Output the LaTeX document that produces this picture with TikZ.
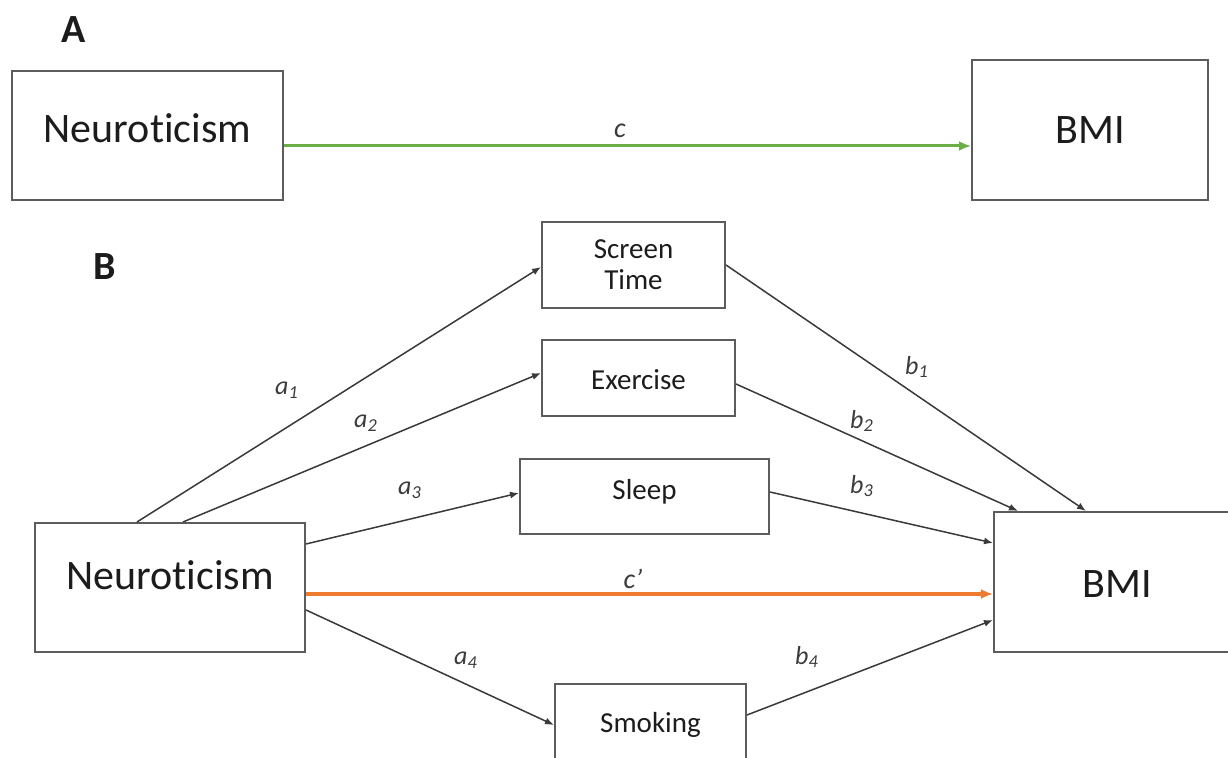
\documentclass[tikz,border=0pt]{standalone}
\usepackage{fontspec}
\setmainfont{Carlito}[Ligatures={NoCommon,NoContextual}]
\usetikzlibrary{arrows.meta,calc}
\definecolor{boxgray}{HTML}{5C5C5C}
\definecolor{arrgray}{HTML}{3A3A3A}
\definecolor{labgray}{HTML}{3C3C3C}
\definecolor{txtblack}{HTML}{1C1C1C}
\definecolor{pathgreen}{HTML}{6AAE45}
\definecolor{pathorange}{HTML}{EE7B30}
\tikzset{
  bigbox/.style={draw=boxgray, line width=1pt, rectangle, inner sep=0pt,
    text=txtblack, font=\fontsize{21}{24}\selectfont},
  smallbox/.style={draw=boxgray, line width=1pt, rectangle, inner sep=0pt,
    text=txtblack, align=center, font=\fontsize{14.5}{15.5}\selectfont},
  patharrow/.style={draw=arrgray, line width=0.75pt, -{Latex[length=4.5pt,width=3.5pt]}},
  greenarrow/.style={draw=pathgreen, line width=1.5pt, -{Latex[length=6pt,width=5pt]}},
  orangearrow/.style={draw=pathorange, line width=2pt, -{Latex[length=6pt,width=5pt]}},
  coef/.style={text=labgray, font=\fontsize{13}{14}\selectfont\itshape, inner sep=0pt},
  panel/.style={text=txtblack, font=\fontsize{20}{22}\selectfont\bfseries, inner sep=0pt}
}
\begin{document}
\begin{tikzpicture}[x=0.5pt,y=-0.5pt]
\useasboundingbox (0,0) rectangle (1228,758);
\clip (0,0) rectangle (1228,758);
\fill[white] (0,0) rectangle (1228,758);

% panel letters
\node[panel] (pA) at (74,30) {A};
\node[panel] (pB) at (105,267) {B};

% panel A
\node[bigbox, minimum width=135.5pt, minimum height=64.5pt, text height=7.5pt, text depth=0pt] (nA) at (147.5,135.5) {Neuroticism};
\node[bigbox, minimum width=118pt, minimum height=70pt, text height=13.5pt, text depth=0pt] (bA) at (1090,130) {BMI};
\draw[greenarrow] ([yshift=-5.25pt]nA.east) -- ([yshift=-5.25pt]nA.east -| bA.west);
\node[coef, font=\fontsize{14}{15}\selectfont\itshape] (lc) at (620,131) {c};

% panel B
\node[bigbox, minimum width=135pt, minimum height=64.5pt, text height=2.5pt, text depth=0pt] (nb) at (170,587.5) {Neuroticism};
\node[bigbox, minimum width=123pt, minimum height=70pt, text height=16pt, text depth=0pt] (bb) at (1117,582) {BMI};
\node[smallbox, minimum width=91.5pt, minimum height=43pt] (st) at (633.5,265) {Screen\\Time};
\node[smallbox, minimum width=96.5pt, minimum height=38pt, text height=12pt, text depth=0pt] (ex) at (638.5,378) {Exercise};
\node[smallbox, minimum width=124.5pt, minimum height=37.5pt, text height=3.5pt, text depth=0pt] (sl) at (644.5,496.5) {Sleep};
\node[smallbox, minimum width=95.5pt, minimum height=53pt, text height=0pt, text depth=4pt] (sm) at (650.5,737) {Smoking};

% a paths
\draw[patharrow] ([xshift=51.5pt]nb.north west) -- ([yshift=-1pt]st.west);
\draw[patharrow] ([xshift=74.5pt]nb.north west) -- ([yshift=2.5pt]ex.west);
\draw[patharrow] ([yshift=21.75pt]nb.east) -- ([yshift=1.75pt]sl.west);
\draw[patharrow] ([yshift=-11.25pt]nb.east) -- ([yshift=6pt]sm.west);
% direct path
\draw[orangearrow] ([yshift=-3.25pt]nb.east) -- ([yshift=-3.25pt]nb.east -| bb.west);
% b paths
\draw[patharrow] (st.east) -- ([xshift=46.5pt]bb.north west);
\draw[patharrow] ([yshift=-3pt]ex.east) -- ([xshift=12.5pt]bb.north west);
\draw[patharrow] ([yshift=2.25pt]sl.east) -- ([yshift=19.5pt]bb.west);
\draw[patharrow] ([yshift=11pt]sm.east) -- ([yshift=-19pt]bb.west);

% coefficient labels
\node[coef] (la1) at (287,390) {a\textsubscript{1}};
\node[coef] (la2) at (366,423) {a\textsubscript{2}};
\node[coef] (la3) at (410,490) {a\textsubscript{3}};
\node[coef] (la4) at (466,660) {a\textsubscript{4}};
\node[coef, font=\fontsize{14}{15}\selectfont\itshape] (lcp) at (633,579) {c’};
\node[coef] (lb1) at (917,367) {b\textsubscript{1}};
\node[coef] (lb2) at (862,421) {b\textsubscript{2}};
\node[coef] (lb3) at (862,486) {b\textsubscript{3}};
\node[coef] (lb4) at (807,657) {b\textsubscript{4}};
\end{tikzpicture}
\end{document}
